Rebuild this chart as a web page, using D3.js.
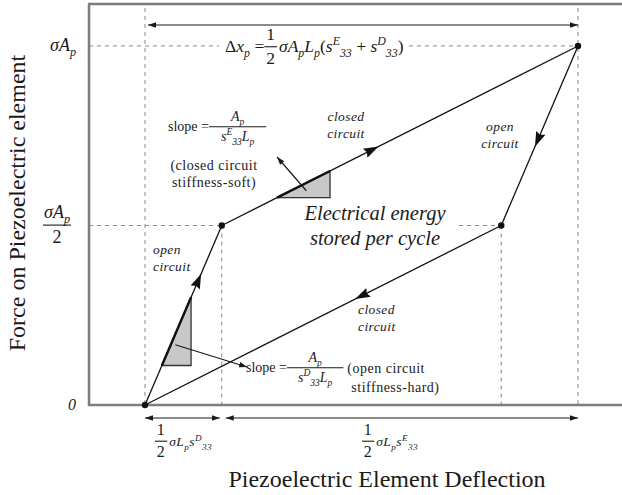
<!DOCTYPE html>
<html>
<head>
<meta charset="utf-8">
<script src="https://cdn.jsdelivr.net/npm/d3@7"></script>
<style>
  body { margin: 0; background: #fff; }
  svg text { font-family: "Liberation Serif", "Times New Roman", serif; fill: #1a1a1a; }
</style>
</head>
<body>
<svg id="chart" width="622" height="495"></svg>
<script>
/* ==== Data ==== */
// cycle corners: deflection in units of ½σL_p s^D_33, force in units of σA_p
var cornerNames = ["O", "A", "B", "C"];
var cornerDeflection = [0, 1, 5.64, 4.64];
var cornerForce = [0, 0.5, 1, 0.5];

// legs of the cycle (corner indices), circuit state, where the direction arrow sits
var legFrom = [0, 1, 2, 3];
var legTo = [1, 2, 3, 0];
var legState = ["open", "closed", "open", "closed"];
var legArrowAt = [0.69, 0.42, 0.52, 0.39];

// slope triangles: which leg, deflection span
var slopeLeg = [0, 1];
var slopeSpan = [[0.22, 0.6], [1.72, 2.41]];

var forceTicks = [0, 0.5, 1];
// rich text parts: [text, kind]  kind = r (roman), i (italic), sub, sup
var forceTickLabels = [
  [{ t: [["0", "i"]], size: 16 }],
  [{ frac: [[["σ", "i"], ["A", "i"], ["p", "sub"]], [["2", "r"]]], pad: 1 }],
  [{ t: [["σ", "i"], ["A", "i"], ["p", "sub"]] }]
];
var spanLabels = [
  [{ frac: [[["1"]], [["2"]]], size: 16 }, { t: [[" σ", "i"], ["L", "i"], ["p", "sub"], ["s", "i"], ["D", "sup"], ["33", "sub"]] }],
  [{ frac: [[["1"]], [["2"]]], size: 16 }, { t: [[" σ", "i"], ["L", "i"], ["p", "sub"], ["s", "i"], ["E", "sup"], ["33", "sub"]] }]
];
var totalLabel = [
  { t: [["Δ", "r"], ["x", "i"], ["p", "sub"], [" = ", "r"]] },
  { frac: [[["1"]], [["2"]]] },
  { t: [["σ", "i"], ["A", "i"], ["p", "sub"], ["L", "i"], ["p", "sub"], ["(", "r"], ["s", "i"], ["E", "sup"], ["33", "sub"],
        [" + ", "r"], ["s", "i"], ["D", "sup"], ["33", "sub"], [")", "r"]] }
];
var slopeLabels = [
  [{ t: [["slope = "]] }, { frac: [[["A", "i"], ["p", "sub"]], [["s", "i"], ["D", "sup"], ["33", "sub"], ["L", "i"], ["p", "sub"]]], pad: 11 }],
  [{ t: [["slope = "]] }, { frac: [[["A", "i"], ["p", "sub"]], [["s", "i"], ["E", "sup"], ["33", "sub"], ["L", "i"], ["p", "sub"]]], pad: 12 }]
];
var slopeNotes = [["(open circuit", "stiffness-hard)"], ["(closed circuit", "stiffness-soft)"]];
var energyNote = ["Electrical energy", "stored per cycle"];
var xTitle = "Piezoelectric Element Deflection";
var yTitle = "Force on Piezoelectric element";

/* ==== Helpers ==== */
function addParts(text, parts, size) {
  var shift = 0;
  parts.forEach(function(p) {
    var kind = p[1] || "r";
    var small = kind === "sub" || kind === "sup";
    var target = kind === "sub" ? size * 0.28 : kind === "sup" ? -size * 0.4 : 0;
    text.append("tspan")
        .attr("dy", target - shift)
        .attr("font-size", small ? size * 0.68 : size)
        .attr("font-style", kind === "r" ? "normal" : "italic")
        .text(p[0]);
    shift = target;
  });
  return text;
}

// lays items out left to right from (x0, y0), returns the width used
function formula(g, x0, y0, items, size) {
  var cx = x0;
  items.forEach(function(it) {
    var s = it.size || size;
    if (it.frac) {
      var pad = it.pad || 2;
      var bar = y0 - s * 0.3;
      var num = addParts(g.append("text").attr("y", bar - s * 0.38), it.frac[0], s);
      var den = addParts(g.append("text").attr("y", bar + s * 1.0), it.frac[1], s);
      var w = Math.max(num.node().getComputedTextLength(), den.node().getComputedTextLength()) + 2 * pad;
      num.attr("x", cx + w / 2).attr("text-anchor", "middle");
      den.attr("x", cx + w / 2).attr("text-anchor", "middle");
      g.append("line").attr("x1", cx).attr("x2", cx + w).attr("y1", bar).attr("y2", bar)
       .attr("stroke", "#1a1a1a").attr("stroke-width", 1.1);
      cx += w + 2;
    } else {
      var t = addParts(g.append("text").attr("x", cx).attr("y", y0), it.t, s);
      cx += t.node().getComputedTextLength();
    }
  });
  return cx - x0;
}

/* ==== Layout ==== */
var svg = d3.select("#chart");
var FRAME_LEFT = 89, FRAME_TOP = 4, FRAME_RIGHT = 622;

var x = d3.scaleLinear().domain(d3.extent(cornerDeflection)).range([145, 578]);
var y = d3.scaleLinear().domain(d3.extent(cornerForce)).range([405, 46]);

var corners = cornerNames.map(function(n, i) {
  return { name: n, d: cornerDeflection[i], f: cornerForce[i], px: x(cornerDeflection[i]), py: y(cornerForce[i]) };
});

svg.append("defs").append("marker")
   .attr("id", "head").attr("viewBox", "0 0 10 10").attr("refX", 10).attr("refY", 5)
   .attr("markerWidth", 8).attr("markerHeight", 8).attr("markerUnits", "userSpaceOnUse")
   .attr("orient", "auto-start-reverse")
   .append("path").attr("d", "M0,1.5 L10,5 L0,8.5 Z").attr("fill", "#1a1a1a");

/* ==== Guides ==== */
var guides = svg.append("g").attr("stroke", "#8a8a8a").attr("stroke-width", 1).attr("stroke-dasharray", "4,4");
var O = corners[0], A = corners[1], B = corners[2], C = corners[3];
[O, B].forEach(function(c) {
  guides.append("line").attr("x1", c.px).attr("x2", c.px).attr("y1", FRAME_TOP + 4).attr("y2", y(0));
});
[A, C].forEach(function(c) {
  guides.append("line").attr("x1", c.px).attr("x2", c.px).attr("y1", c.py).attr("y2", y(0));
});
guides.append("line").attr("x1", FRAME_LEFT).attr("x2", B.px).attr("y1", B.py).attr("y2", B.py);
guides.append("line").attr("x1", FRAME_LEFT).attr("x2", A.px).attr("y1", A.py).attr("y2", A.py);
guides.append("line").attr("x1", x(C.d - 0.55)).attr("x2", C.px).attr("y1", C.py).attr("y2", C.py);

/* ==== Frame ==== */
var frame = svg.append("g").attr("stroke", "#7d7d7d").attr("stroke-width", 2.5).attr("fill", "none");
frame.append("line").attr("x1", FRAME_LEFT - 1).attr("x2", FRAME_RIGHT).attr("y1", FRAME_TOP).attr("y2", FRAME_TOP);
frame.append("line").attr("x1", FRAME_LEFT).attr("x2", FRAME_LEFT).attr("y1", FRAME_TOP).attr("y2", y(0) + 1);
frame.append("line").attr("x1", FRAME_LEFT - 1).attr("x2", FRAME_RIGHT).attr("y1", y(0)).attr("y2", y(0));

/* ==== Dimension arrows ==== */
var dims = svg.append("g").attr("stroke", "#1a1a1a").attr("stroke-width", 1.2);
dims.append("line").attr("x1", O.px + 3).attr("x2", B.px).attr("y1", 25).attr("y2", 25)
    .attr("marker-start", "url(#head)").attr("marker-end", "url(#head)");
var spans = [[O, A], [A, B]];
spans.forEach(function(s, i) {
  dims.append("line")
      .attr("x1", s[0].px + (i ? 4 : 0)).attr("x2", s[1].px - (i ? 0 : 2))
      .attr("y1", 418).attr("y2", 418)
      .attr("marker-start", "url(#head)").attr("marker-end", "url(#head)");
});

/* ==== Slope triangles ==== */
function forceOnLeg(k, d) {
  var a = corners[legFrom[k]], b = corners[legTo[k]];
  return a.f + (d - a.d) * (b.f - a.f) / (b.d - a.d);
}
var triCentres = [];
slopeLeg.forEach(function(k, i) {
  var d1 = slopeSpan[i][0], d2 = slopeSpan[i][1];
  var f1 = forceOnLeg(k, d1), f2 = forceOnLeg(k, d2);
  var pts = [[x(d1), y(f1)], [x(d2), y(f2)], [x(d2), y(f1)]];
  svg.append("path").attr("d", d3.line()(pts) + "Z")
     .attr("fill", "#c8c8c8").attr("stroke", "#333").attr("stroke-width", 1.3);
  svg.append("line").attr("x1", pts[0][0]).attr("y1", pts[0][1]).attr("x2", pts[1][0]).attr("y2", pts[1][1])
     .attr("stroke", "#111").attr("stroke-width", 2.4);
  triCentres.push([(pts[0][0] + 2 * pts[1][0]) / 3 - 6, (pts[0][1] + pts[1][1] + pts[2][1]) / 3 + 2]);
});

/* ==== Cycle ==== */
var cycle = svg.append("g");
legFrom.forEach(function(fi, k) {
  var a = corners[fi], b = corners[legTo[k]];
  cycle.append("line").attr("x1", a.px).attr("y1", a.py).attr("x2", b.px).attr("y2", b.py)
       .attr("stroke", "#111").attr("stroke-width", 1.3);
  var t = legArrowAt[k];
  var px = a.px + t * (b.px - a.px), py = a.py + t * (b.py - a.py);
  var ang = Math.atan2(b.py - a.py, b.px - a.px) * 180 / Math.PI;
  cycle.append("path").attr("d", "M8,0 L-7,-5 L-5,0 L-7,5 Z")
       .attr("transform", "translate(" + px + "," + py + ") rotate(" + ang + ")")
       .attr("fill", "#111");
});
cycle.selectAll("circle").data(corners).enter().append("circle")
     .attr("cx", function(d) { return d.px; }).attr("cy", function(d) { return d.py; })
     .attr("r", 3.2).attr("fill", "#111");

/* ==== Pointers from the triangles ==== */
var pointerEnds = [[247, 367], [277, 157]];
triCentres.forEach(function(c, i) {
  svg.append("line").attr("x1", c[0]).attr("y1", c[1]).attr("x2", pointerEnds[i][0]).attr("y2", pointerEnds[i][1])
     .attr("stroke", "#1a1a1a").attr("stroke-width", 1.2).attr("marker-end", "url(#head)");
});

/* ==== Leg labels ==== */
var legLabelPos = [[153, 254, "start"], [346, 121, "middle"], [500, 131, "middle"], [358, 314, "start"]];
legState.forEach(function(s, k) {
  var p = legLabelPos[k];
  var t = svg.append("text").attr("x", p[0]).attr("y", p[1]).attr("text-anchor", p[2])
     .attr("font-size", 13.5).attr("font-style", "italic").attr("letter-spacing", 0.4);
  t.append("tspan").attr("x", p[0]).text(s);
  t.append("tspan").attr("x", p[0]).attr("dy", 17).text("circuit");
});

/* ==== Slope labels ==== */
var slopePos = [[246, 372, 14], [168, 131, 14]];
slopeLabels.forEach(function(items, i) {
  var g = svg.append("g");
  var w = formula(g, slopePos[i][0], slopePos[i][1], items, slopePos[i][2]);
  var note = svg.append("text").attr("font-size", 14).attr("letter-spacing", 0.5);
  if (i === 0) {
    note.append("tspan").attr("x", slopePos[i][0] + w + 2).attr("y", 373).text(slopeNotes[i][0]);
    note.append("tspan").attr("x", slopePos[i][0] + w + 6).attr("y", 392).text(slopeNotes[i][1]);
  } else {
    note.attr("text-anchor", "middle");
    note.append("tspan").attr("x", 214).attr("y", 170).text(slopeNotes[i][0]);
    note.append("tspan").attr("x", 214).attr("y", 187).text(slopeNotes[i][1]);
  }
});

svg.append("text").attr("text-anchor", "middle").attr("font-size", 20.5).attr("font-style", "italic")
   .selectAll("tspan").data(energyNote).enter().append("tspan")
   .attr("x", 375).attr("y", function(d, i) { return 220 + i * 25; })
   .text(function(d) { return d; });

/* ==== Total deflection formula ==== */
var topG = svg.append("g");
var bg = topG.append("rect").attr("fill", "#fff");
var topW = formula(topG, 225, 52, totalLabel, 17.5);
bg.attr("x", 219).attr("y", 30).attr("width", topW + 10).attr("height", 36);

/* ==== Span labels ==== */
spans.forEach(function(s, i) {
  var g = svg.append("g").attr("letter-spacing", 0.4);
  var w = formula(g, 0, 446, spanLabels[i], 13.5);
  var mid = (s[0].px + s[1].px) / 2 - (i ? 10 : 0);
  g.attr("transform", "translate(" + (mid - w / 2) + ",0)");
});

/* ==== Force tick labels ==== */
forceTicks.forEach(function(f, i) {
  var g = svg.append("g");
  var w = formula(g, 0, y(f) + 5, forceTickLabels[i], 18);
  var left = forceTickLabels[i][0].frac ? 58 - w / 2 : 76 - w;
  g.attr("transform", "translate(" + left + ",0)");
});

/* ==== Axis titles ==== */
svg.append("text").attr("x", 387).attr("y", 487).attr("text-anchor", "middle")
   .attr("font-size", 24).text(xTitle);
svg.append("text").attr("transform", "translate(25,203) rotate(-90)").attr("text-anchor", "middle")
   .attr("font-size", 24).text(yTitle);
</script>
</body>
</html>
